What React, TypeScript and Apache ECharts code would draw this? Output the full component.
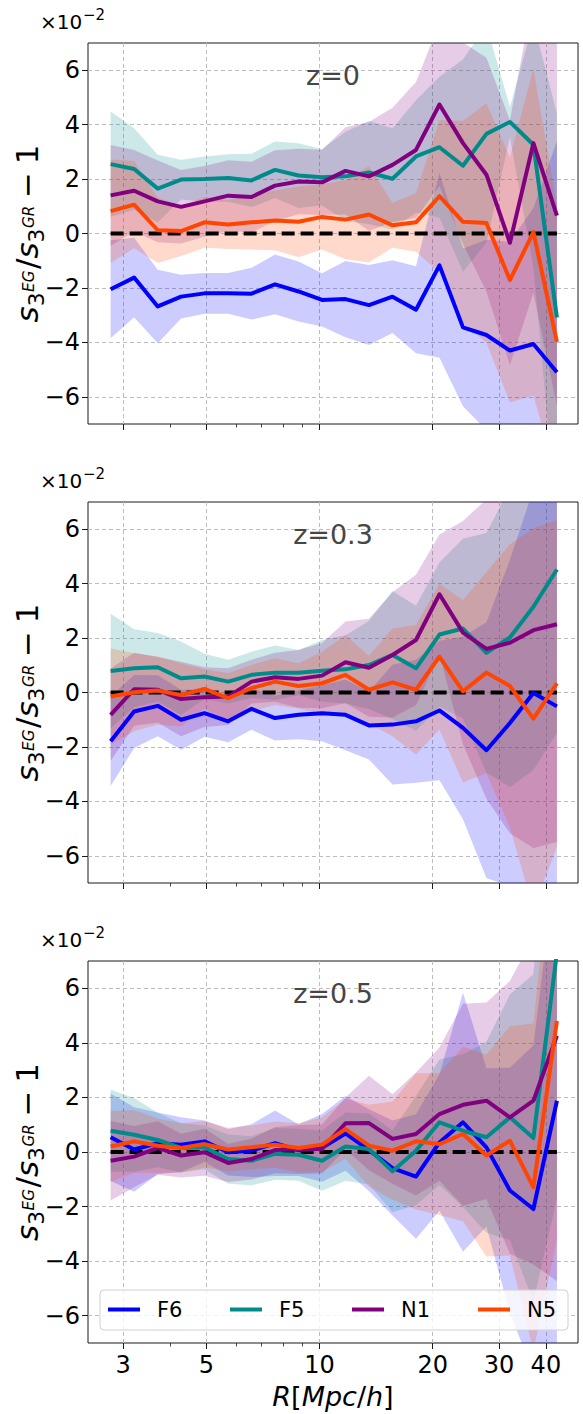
import React, { useEffect, useRef } from 'react';
import * as echarts from 'echarts';

// Bin centres of the smoothing scale R [Mpc/h]
const radius = [2.78, 3.21, 3.71, 4.28, 4.94, 5.71, 6.59, 7.61, 8.79, 10.15, 11.72, 13.53, 15.63, 18.05, 20.84, 24.07, 27.79, 32.09, 37.06, 42.8];

const majorTicks = [3, 5, 10, 20, 30, 40];
const minorTicks = [4, 6, 7, 8, 9];
const yTicks = [-6, -4, -2, 0, 2, 4, 6];

const redshiftLabels = ['z=0', 'z=0.3', 'z=0.5'];
const modelNames = ['F6', 'F5', 'N1', 'N5'];
const modelColors = ['#0000ff', '#008b8b', '#800080', '#ff4500'];
const bandColors = ['rgba(0,0,255,0.2)', 'rgba(0,139,139,0.2)', 'rgba(128,0,128,0.2)', 'rgba(255,69,0,0.2)'];

// s3 ratio - 1, in units of 1e-2, with 1-sigma errors
// z = 0
const f6Z0 = [-2.05, -1.62, -2.68, -2.32, -2.2, -2.2, -2.21, -1.87, -2.13, -2.44, -2.41, -2.63, -2.32, -2.8, -1.17, -3.45, -3.73, -4.3, -4.06, -5.1];
const f6Z0Err = [1.8, 1.46, 1.35, 0.8, 0.75, 0.75, 0.95, 1.1, 1.1, 0.98, 1.4, 1.47, 1.34, 1.6, 3.4, 2.9, 3.5, 4.0, 5.0, 8.5];
const f5Z0 = [2.55, 2.37, 1.65, 1.98, 2.0, 2.04, 1.95, 2.34, 2.13, 2.07, 2.1, 2.24, 2.01, 2.83, 3.17, 2.49, 3.66, 4.1, 3.26, -3.09];
const f5Z0Err = [1.93, 1.5, 1.24, 0.73, 0.83, 0.87, 0.98, 1.04, 1.19, 1.03, 1.64, 1.89, 1.86, 2.07, 2.59, 3.9, 4.0, 0.55, 4.5, 7.5];
const n1Z0 = [1.4, 1.57, 1.18, 0.98, 1.18, 1.39, 1.34, 1.76, 1.91, 1.88, 2.3, 2.1, 2.52, 3.07, 4.74, 3.32, 2.16, -0.34, 3.32, 0.66];
const n1Z0Err = [1.85, 1.5, 1.5, 1.35, 1.3, 1.3, 1.3, 1.3, 1.2, 1.2, 1.6, 2.0, 2.1, 2.5, 3.0, 3.7, 4.3, 4.5, 5.5, 7.0];
const n5Z0 = [0.82, 1.06, 0.12, 0.09, 0.41, 0.33, 0.41, 0.48, 0.43, 0.61, 0.51, 0.7, 0.3, 0.41, 1.37, 0.43, 0.39, -1.71, 0.05, -3.98];
const n5Z0Err = [1.9, 1.6, 1.2, 0.92, 0.93, 0.9, 1.0, 1.1, 1.3, 1.2, 1.46, 1.77, 0.82, 1.08, 2.8, 3.7, 4.4, 4.5, 6.0, 5.0];

// z = 0.3
const f6Z3 = [-1.79, -0.7, -0.49, -1.0, -0.76, -1.06, -0.6, -0.94, -0.82, -0.76, -0.82, -1.21, -1.18, -1.06, -0.66, -1.3, -2.12, -1.12, -0.02, -0.51];
const f6Z3Err = [1.65, 1.34, 1.12, 1.1, 0.87, 0.77, 0.77, 0.82, 0.9, 1.03, 1.3, 1.25, 2.2, 2.26, 2.56, 3.36, 4.7, 6.0, 7.5, 8.0];
const f5Z3 = [0.79, 0.89, 0.93, 0.52, 0.59, 0.4, 0.65, 0.73, 0.73, 0.8, 0.85, 1.01, 1.38, 0.89, 2.13, 2.35, 1.46, 2.02, 3.15, 4.52];
const f5Z3Err = [2.1, 1.43, 1.26, 1.35, 0.83, 0.8, 0.85, 1.0, 0.83, 1.13, 1.25, 1.62, 2.35, 2.3, 2.65, 3.3, 4.4, 5.5, 6.0, 6.0];
const n1Z3 = [-0.82, 0.12, 0.1, -0.24, -0.17, -0.15, 0.4, 0.56, 0.5, 0.62, 1.11, 0.91, 1.38, 1.93, 3.61, 2.2, 1.6, 1.83, 2.29, 2.51];
const n1Z3Err = [1.7, 1.34, 1.2, 1.37, 1.1, 1.04, 0.8, 0.9, 1.06, 1.2, 1.5, 1.8, 2.3, 2.4, 2.2, 4.1, 5.5, 7.0, 8.0, 8.0];
const n5Z3 = [-0.15, 0.01, 0.07, -0.09, 0.13, -0.21, 0.16, 0.4, 0.24, 0.34, 0.65, 0.1, 0.37, 0.1, 1.32, 0.04, 0.73, 0.24, -0.96, 0.34];
const n5Z3Err = [1.77, 1.43, 1.25, 1.16, 0.72, 0.92, 0.85, 0.86, 0.83, 1.16, 1.45, 1.24, 1.98, 2.38, 2.68, 3.35, 3.7, 5.2, 7.0, 6.0];

// z = 0.5
const f6Z5 = [0.54, 0.09, 0.32, 0.27, 0.39, -0.01, 0.05, 0.32, 0.07, 0.15, 0.68, 0.07, -0.59, -0.9, 0.35, 1.09, 0.17, -1.41, -2.09, 1.88];
const f6Z5Err = [1.6, 1.55, 1.13, 1.0, 0.76, 0.85, 0.97, 1.2, 0.95, 1.24, 1.37, 1.5, 1.74, 2.28, 2.5, 4.75, 2.9, 4.5, 6.0, 9.0];
const f5Z5 = [0.78, 0.63, 0.44, 0.15, 0.17, -0.26, -0.32, -0.07, -0.1, -0.32, 0.2, 0.11, -0.71, 0.05, 1.09, 0.78, 0.54, 1.27, 0.51, 7.3];
const f5Z5Err = [1.5, 1.35, 1.0, 0.9, 0.8, 0.9, 0.9, 0.95, 0.95, 1.1, 1.25, 1.3, 1.5, 2.0, 2.3, 2.8, 3.5, 4.5, 6.0, 9.0];
const n1Z5 = [-0.32, -0.17, 0.15, -0.13, -0.01, -0.4, -0.26, 0.07, 0.09, 0.11, 1.05, 1.06, 0.48, 0.66, 1.39, 1.73, 1.88, 1.27, 1.88, 4.26];
const n1Z5Err = [1.46, 1.12, 0.98, 0.8, 0.86, 0.7, 0.75, 0.85, 0.9, 0.9, 0.95, 1.73, 1.64, 2.25, 2.44, 3.7, 3.6, 5.0, 6.0, 9.0];
const n5Z5 = [0.2, 0.39, 0.23, 0.15, 0.29, 0.09, 0.17, 0.27, 0.15, 0.27, 0.84, 0.23, 0.05, 0.39, 0.29, 0.66, -0.13, 0.41, -1.29, 4.8];
const n5Z5Err = [1.3, 1.15, 1.0, 0.9, 0.85, 0.8, 0.8, 0.85, 0.9, 1.0, 1.1, 1.5, 1.8, 2.5, 2.6, 3.2, 3.7, 4.2, 6.0, 8.0];

const panelMeans = [
  [f6Z0, f5Z0, n1Z0, n5Z0],
  [f6Z3, f5Z3, n1Z3, n5Z3],
  [f6Z5, f5Z5, n1Z5, n5Z5],
];
const panelErrs = [
  [f6Z0Err, f5Z0Err, n1Z0Err, n5Z0Err],
  [f6Z3Err, f5Z3Err, n1Z3Err, n5Z3Err],
  [f6Z5Err, f5Z5Err, n1Z5Err, n5Z5Err],
];

const FONT = "'DejaVu Sans', sans-serif";
const GRID_LEFT = 88;
const GRID_WIDTH = 490;
const GRID_TOPS = [43, 502, 961];
const GRID_HEIGHTS = [381, 381, 382];
const X_MIN = Math.log10(2.42);
const X_MAX = Math.log10(48.7);
const LEGEND_LEFTS = [108, 230, 352, 478];

const minus = (v: number) => (v < 0 ? '\u2212' + Math.abs(v) : String(v));

function buildYLabel(cx: number, cy: number) {
  const ctx = document.createElement('canvas').getContext('2d') as CanvasRenderingContext2D;
  const F = 31;
  const measure = (t: string, size: number, italic: boolean) => {
    ctx.font = `${italic ? 'italic ' : ''}${size}px 'DejaVu Sans'`;
    return ctx.measureText(t).width;
  };
  const pieces = [
    { t: 's', size: F, italic: true, base: 0, gap: 0 },
    { t: '3', size: 0.7 * F, italic: false, base: 0.2 * F, gap: 0 },
    { t: 'EG', size: 0.49 * F, italic: true, base: -0.13 * F, gap: 0.02 * F },
    { t: '/', size: F, italic: false, base: 0, gap: 0.05 * F },
    { t: 's', size: F, italic: true, base: 0, gap: 0 },
    { t: '3', size: 0.7 * F, italic: false, base: 0.2 * F, gap: 0 },
    { t: 'GR', size: 0.49 * F, italic: true, base: -0.13 * F, gap: 0.02 * F },
    { t: '\u2212', size: F, italic: false, base: 0, gap: 0.25 * F },
    { t: '1', size: F, italic: false, base: 0, gap: 0.25 * F },
  ];
  let x = 0;
  const placed = pieces.map((p) => {
    x += p.gap;
    const item = { ...p, x };
    x += measure(p.t, p.size, p.italic);
    return item;
  });
  const total = x;
  return {
    type: 'group',
    x: cx,
    y: cy,
    rotation: Math.PI / 2,
    children: placed.map((p) => ({
      type: 'text',
      x: p.x - total / 2,
      y: p.base - 0.35 * p.size,
      style: {
        text: p.t,
        fontSize: p.size,
        fontStyle: p.italic ? 'italic' : 'normal',
        fontFamily: FONT,
        fill: '#000',
        align: 'left',
        verticalAlign: 'middle',
      },
    })),
  };
}

export default function App() {
  const ref = useRef<HTMLDivElement>(null);

  useEffect(() => {
    if (!ref.current) return;
    const chart = echarts.init(ref.current, null, { renderer: 'svg' });
    const lx = radius.map((r) => Math.log10(r));
    const axisColor = '#1a1a1a';

    const grid: any[] = [];
    const xAxis: any[] = [];
    const yAxis: any[] = [];
    const series: any[] = [];
    const graphic: any[] = [];

    GRID_TOPS.forEach((top, k) => {
      grid.push({
        left: GRID_LEFT,
        top,
        width: GRID_WIDTH,
        height: GRID_HEIGHTS[k],
        show: true,
        borderColor: axisColor,
        borderWidth: 1,
        backgroundColor: 'transparent',
      });
      // major x ticks with labels and grid lines
      xAxis.push({
        type: 'value',
        gridIndex: k,
        min: X_MIN,
        max: X_MAX,
        position: 'bottom',
        axisLine: { show: false, onZero: false },
        axisTick: {
          show: true,
          length: 6,
          lineStyle: { color: axisColor, width: 1 },
          customValues: majorTicks.map((t) => Math.log10(t)),
        },
        axisLabel: {
          show: k === 2,
          customValues: majorTicks.map((t) => Math.log10(t)),
          formatter: (v: number) => String(Math.round(Math.pow(10, v))),
          fontSize: 24,
          fontFamily: FONT,
          color: '#000',
          margin: 10,
        },
        splitLine: { show: true, lineStyle: { color: '#bdbdbd', width: 1, type: [4, 3] } },
      });
      // minor x ticks
      xAxis.push({
        type: 'value',
        gridIndex: k,
        min: X_MIN,
        max: X_MAX,
        position: 'bottom',
        axisLine: { show: false, onZero: false },
        axisTick: {
          show: true,
          length: 3.5,
          lineStyle: { color: axisColor, width: 0.8 },
          customValues: minorTicks.map((t) => Math.log10(t)),
        },
        axisLabel: { show: false },
        splitLine: { show: false },
      });
      yAxis.push({
        type: 'value',
        gridIndex: k,
        min: -7,
        max: 7,
        axisLine: { show: false, onZero: false },
        axisTick: { show: true, length: 6, lineStyle: { color: axisColor, width: 1 }, customValues: yTicks },
        axisLabel: {
          customValues: yTicks,
          formatter: (v: number) => minus(v),
          fontSize: 24,
          fontFamily: FONT,
          color: '#000',
          margin: 8,
        },
        splitLine: { show: true, lineStyle: { color: '#bdbdbd', width: 1, type: [4, 3] } },
      });

      const means = panelMeans[k];
      const errs = panelErrs[k];

      // shaded 1-sigma bands
      modelNames.forEach((_, m) => {
        const mean = means[m];
        const err = errs[m];
        series.push({
          type: 'custom',
          xAxisIndex: 2 * k,
          yAxisIndex: k,
          clip: true,
          silent: true,
          z: 1,
          data: [[lx[0], mean[0]]],
          renderItem: (_params: any, api: any) => {
            const upper = lx.map((x, i) => api.coord([x, mean[i] + err[i]]));
            const lower = lx.map((x, i) => api.coord([x, mean[i] - err[i]])).reverse();
            return {
              type: 'polygon',
              shape: { points: upper.concat(lower) },
              style: { fill: bandColors[m], stroke: 'none' },
            };
          },
        });
      });

      // GR reference line
      series.push({
        type: 'line',
        xAxisIndex: 2 * k,
        yAxisIndex: k,
        silent: true,
        symbol: 'none',
        z: 2,
        data: [
          [lx[0], 0],
          [lx[lx.length - 1], 0],
        ],
        lineStyle: { color: '#000', width: 3.8, type: [13, 6] },
      });

      // model curves
      modelNames.forEach((name, m) => {
        series.push({
          type: 'line',
          name,
          xAxisIndex: 2 * k,
          yAxisIndex: k,
          symbol: 'none',
          z: 3,
          data: lx.map((x, i) => [x, means[m][i]]),
          lineStyle: { color: modelColors[m], width: 4, join: 'round' },
          itemStyle: { color: modelColors[m] },
        });
      });

      // redshift label
      graphic.push({
        type: 'text',
        x: GRID_LEFT + GRID_WIDTH / 2,
        y: top + 32,
        z: 50,
        style: {
          text: redshiftLabels[k],
          fontSize: 27,
          fontFamily: FONT,
          fill: '#464646',
          align: 'center',
          verticalAlign: 'middle',
        },
      });
      // axis multiplier
      graphic.push({
        type: 'text',
        x: 40,
        y: top - 21,
        z: 50,
        style: { text: '\u00d710', fontSize: 20, fontFamily: FONT, fill: '#000', align: 'left', verticalAlign: 'middle' },
      });
      graphic.push({
        type: 'text',
        x: 83,
        y: top - 28,
        z: 50,
        style: { text: '\u22122', fontSize: 15, fontFamily: FONT, fill: '#000', align: 'left', verticalAlign: 'middle' },
      });
      graphic.push(buildYLabel(38, top + GRID_HEIGHTS[k] / 2));
    });

    // x-axis title
    graphic.push({
      type: 'text',
      x: GRID_LEFT + GRID_WIDTH / 2,
      y: 1396,
      z: 50,
      style: {
        text: '{i|R}[{i|Mpc}/{i|h}]',
        fontSize: 27,
        fontFamily: FONT,
        fill: '#000',
        align: 'center',
        verticalAlign: 'middle',
        rich: { i: { fontStyle: 'italic', fontSize: 27, fontFamily: FONT, fill: '#000' } },
      },
    });
    // legend frame
    graphic.push({
      type: 'rect',
      z: 55,
      shape: { x: 100, y: 1290, width: 468, height: 40, r: 4 },
      style: { fill: 'rgba(255,255,255,0.8)', stroke: '#d0d0d0', lineWidth: 1 },
    });

    const legend = modelNames.map((name, i) => ({
      data: [name],
      left: LEGEND_LEFTS[i],
      top: 1299,
      padding: 0,
      itemGap: 0,
      itemWidth: 32,
      itemHeight: 4,
      icon: 'rect',
      z: 60,
      selectedMode: false,
      textStyle: { fontSize: 21, fontFamily: FONT, color: '#000', padding: [0, 0, 0, 12] },
    }));

    chart.setOption({
      animation: false,
      backgroundColor: '#ffffff',
      grid,
      xAxis,
      yAxis,
      series,
      legend,
      graphic,
    });

    return () => chart.dispose();
  }, []);

  return <div ref={ref} style={{ position: 'absolute', left: 0, top: 0, width: 583, height: 1414 }} />;
}
